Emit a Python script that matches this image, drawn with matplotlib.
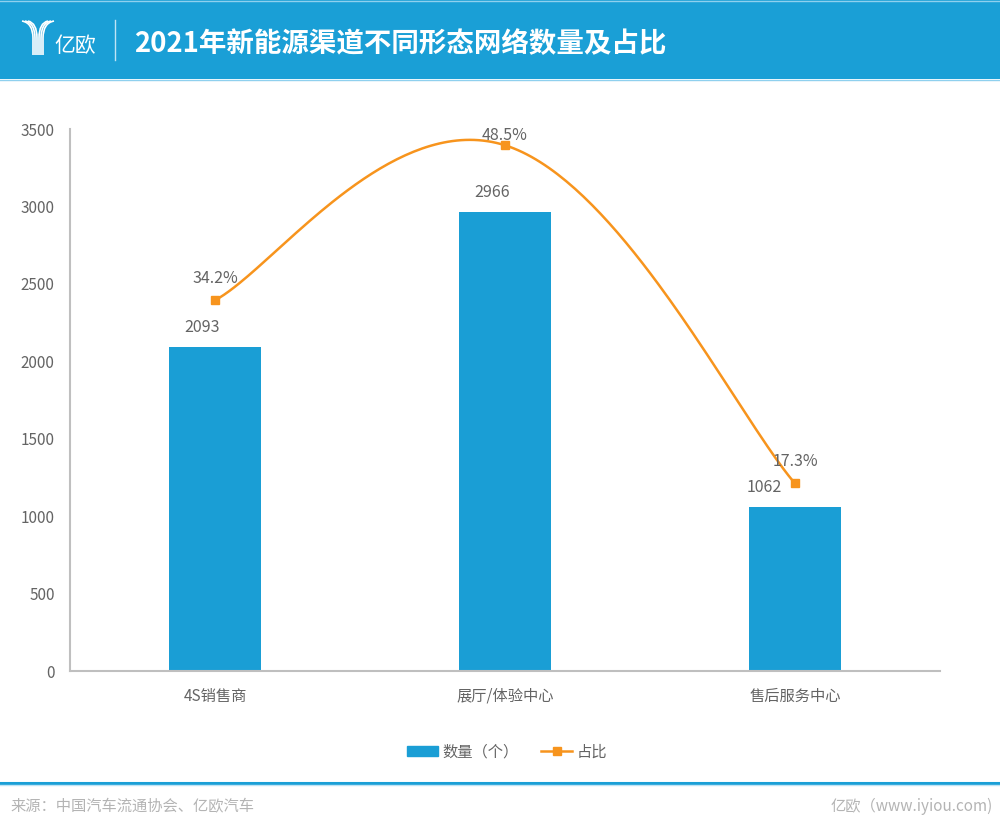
import numpy as np
import matplotlib
matplotlib.use("Agg")
import matplotlib.pyplot as plt
from matplotlib.patches import Rectangle, Patch
from matplotlib.lines import Line2D
from matplotlib.path import Path
from matplotlib.patches import PathPatch

plt.rcParams['font.family'] = ['Noto Sans CJK SC', 'DejaVu Sans']
plt.rcParams['font.weight'] = 'light'

# data
categories = ["4S销售商", "展厅/体验中心", "售后服务中心"]
counts = [2093, 2966, 1062]
shares = [34.2, 48.5, 17.3]

BLUE = "#1a9ed5"
ORANGE = "#f7941d"
GREY = "#646464"
W, H = 1000, 832


def smooth(xs, ys, k=0.2, n=80):
    # excel-like smoothed line: cubic bezier between points
    pts = np.column_stack([xs, ys]).astype(float)
    out = [pts[:1]]
    t = np.linspace(0, 1, n)[1:, None]
    for i in range(len(pts) - 1):
        p0 = pts[max(i - 1, 0)]
        p1 = pts[i]
        p2 = pts[i + 1]
        p3 = pts[min(i + 2, len(pts) - 1)]
        c1 = p1 + (p2 - p0) * k
        c2 = p2 - (p3 - p1) * k
        seg = (1 - t)**3 * p1 + 3 * (1 - t)**2 * t * c1 + 3 * (1 - t) * t**2 * c2 + t**3 * p2
        out.append(seg)
    return np.vstack(out)


fig = plt.figure(figsize=(W / 100, H / 100), dpi=100)

# background decoration (pixel coords)
deco = fig.add_axes([0, 0, 1, 1], zorder=0)
deco.set_xlim(0, W)
deco.set_ylim(H, 0)
deco.axis("off")
deco.add_patch(Rectangle((0, 0), W, 79, color="#1a9fd6", lw=0))
deco.plot([0, W], [79.5, 79.5], color="#8fd0ee", lw=1)
deco.plot([0, W], [0.5, 0.5], color="#8fd0ee", lw=1)

# logo
for i in range(3):
    verts = [(22 + 3 * i, 21), (33 + 2 * i, 23), (33 + 2 * i, 38), (33 + 2 * i, 55)]
    deco.add_patch(PathPatch(Path(verts, [Path.MOVETO, Path.CURVE3, Path.CURVE3, Path.LINETO]),
                             fill=False, ec="white", lw=1.2))
    verts = [(54 - 3 * i, 21), (43 - 2 * i, 23), (43 - 2 * i, 38), (43 - 2 * i, 55)]
    deco.add_patch(PathPatch(Path(verts, [Path.MOVETO, Path.CURVE3, Path.CURVE3, Path.LINETO]),
                             fill=False, ec="white", lw=1.2))
deco.text(54, 46, "亿欧", color="white", fontsize=15, va="center", ha="left")
deco.plot([115, 115], [20, 60], color="#bfe4f5", lw=1)
deco.text(134, 44, "2021年新能源渠道不同形态网络数量及占比", color="white", fontsize=19.8,
          fontweight="bold", va="center", ha="left")

# footer
deco.plot([0, W], [782.5, 782.5], color="#1a9fd6", lw=2.2)
deco.plot([0, W], [785, 785], color="#bfe4f5", lw=1)
deco.text(10, 806, "来源：中国汽车流通协会、亿欧汽车", color="#b4b4b4", fontsize=11, va="center", ha="left")
deco.text(993, 806, "亿欧（www.iyiou.com)", color="#b4b4b4", fontsize=11, va="center", ha="right")

# main chart
ax = fig.add_axes([70 / W, 161 / H, 870 / W, 542 / H], zorder=2)
ax.set_facecolor("none")
x = np.arange(len(categories))
ax.bar(x, counts, width=0.315, color=BLUE, zorder=2)
ax.set_xlim(-0.5, len(categories) - 0.5)
ax.set_ylim(0, 3500)
ax.set_yticks(range(0, 3501, 500))
ax.set_xticks(x)
ax.set_xticklabels(categories)
ax.tick_params(length=0, labelsize=11, labelcolor=GREY)
ax.tick_params(axis="y", pad=11)
ax.tick_params(axis="x", pad=12)
for s in ["top", "right"]:
    ax.spines[s].set_visible(False)
for s in ["left", "bottom"]:
    ax.spines[s].set_color("#bfbfbf")
    ax.spines[s].set_linewidth(1.5)

label_dx = [-0.045, -0.045, -0.107]
for xi, c, dx in zip(x, counts, label_dx):
    ax.text(xi + dx, c + 123, str(c), ha="center", va="center", fontsize=11.5, color=GREY)

ax2 = ax.twinx()
ax2.set_ylim(0, 50)
ax2.axis("off")
curve = smooth(x, shares)
ax2.plot(curve[:, 0], curve[:, 1], color=ORANGE, lw=1.8, zorder=3)
ax2.plot(x, shares, ls="none", marker="s", ms=5.5, color=ORANGE, zorder=4)
for xi, v in zip(x, shares):
    ax2.text(xi, min(v + 2.03, 49.4), f"{v}%", ha="center", va="center", fontsize=11.5, color=GREY)

handles = [Patch(color=BLUE), Line2D([], [], color=ORANGE, lw=1.8, marker="s", ms=5.5)]
fig.legend(handles, ["数量（个）", "占比"], loc="center", bbox_to_anchor=(0.507, 1 - 752 / H),
           ncol=2, frameon=False, fontsize=11, handlelength=2.0, handleheight=0.55,
           handletextpad=0.3, columnspacing=1.5, labelcolor=GREY)

fig.savefig("out.png", dpi=100)
